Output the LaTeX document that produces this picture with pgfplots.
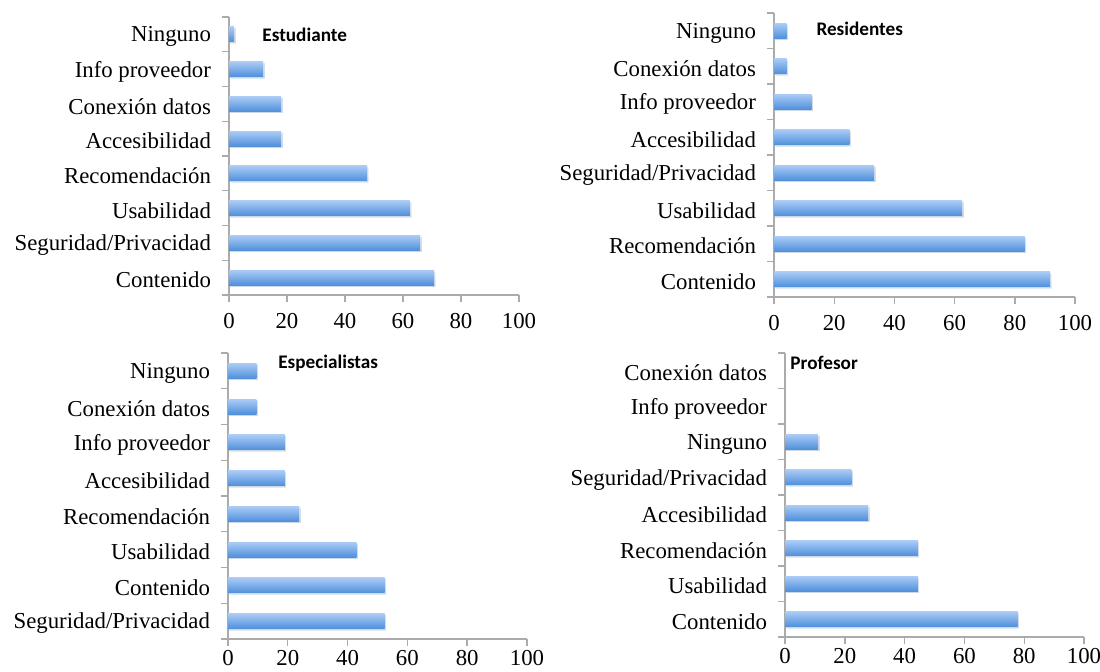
\documentclass[border=0pt]{standalone}
\usepackage{fontspec}
\setmainfont{Liberation Serif}
\newfontfamily\titlefont{Carlito}
\usepackage{pgfplots}
\pgfplotsset{compat=1.18}
\usetikzlibrary{shadows}
\definecolor{bartop}{HTML}{AACBF6}
\definecolor{barbot}{HTML}{5090DB}
\definecolor{axgray}{HTML}{ABABAB}
\pgfplotsset{
  panel/.style={
    scale only axis,
    anchor=south west,
    xbar, bar width=7.5pt,
    xmin=0, xmax=100,
    ymin=-0.5, ymax=7.5,
    xtick={0,20,...,100},
    ytick={0,...,7},
    minor ytick={-0.5,0.5,...,7.5},
    major y tick style={draw=none},
    minor y tick style={draw=axgray, line width=0.7pt},
    x tick style={draw=axgray, line width=0.7pt},
    tick align=outside,
    major tick length=3.5pt,
    minor tick length=3.5pt,
    axis x line*=bottom,
    axis y line*=left,
    axis line style={draw=axgray, line width=0.75pt},
    tick label style={font=\fontsize{11.4}{12}\selectfont},
    /pgf/number format/assume math mode=true,
    xticklabel style={yshift=-2pt},
    yticklabel style={xshift=-2pt, yshift=-1.2pt},
    clip=false,
  },
  barstyle/.style={draw=none, bar shift=0pt, top color=bartop, bottom color=barbot,
    drop shadow={shadow xshift=0.7pt, shadow yshift=-0.7pt, opacity=0.18}},
}
\tikzset{ttl/.style={anchor=west, inner sep=0pt, font=\titlefont\bfseries\fontsize{9.6}{10}\selectfont}}
\newcommand\hb[2]{\addplot[barstyle] coordinates {(#1,#2)};}
\begin{document}
\begin{tikzpicture}
\useasboundingbox (0,0) rectangle (550pt,336pt);
% Estudiante
\begin{axis}[panel, at={(114.5pt,188.5pt)}, width=145pt, height=139pt,
  yticklabels={Contenido,Seguridad/Privacidad,Usabilidad,Recomendación,Accesibilidad,Conexión datos,Info proveedor,Ninguno}]
\hb{70.7}{0}\hb{65.9}{1}\hb{62.4}{2}\hb{47.6}{3}\hb{18}{4}\hb{18}{5}\hb{11.8}{6}\hb{1.8}{7}
\node[ttl] at (rel axis cs:0.114,0.935) {Estudiante};
\end{axis}
% Residentes
\begin{axis}[panel, at={(387pt,187.5pt)}, width=150.5pt, height=142pt,
  yticklabels={Contenido,Recomendación,Usabilidad,Seguridad/Privacidad,Accesibilidad,Info proveedor,Conexión datos,Ninguno}]
\hb{91.7}{0}\hb{83.3}{1}\hb{62.5}{2}\hb{33.3}{3}\hb{25}{4}\hb{12.5}{5}\hb{4.2}{6}\hb{4.2}{7}
\node[ttl] at (rel axis cs:0.14,0.944) {Residentes};
\end{axis}
% Especialistas
\begin{axis}[panel, at={(114pt,16.5pt)}, width=149.5pt, height=143pt,
  xticklabel style={yshift=3.2pt},
  yticklabels={Seguridad/Privacidad,Contenido,Usabilidad,Recomendación,Accesibilidad,Info proveedor,Conexión datos,Ninguno}]
\hb{52.4}{0}\hb{52.4}{1}\hb{42.9}{2}\hb{23.8}{3}\hb{19.0}{4}\hb{19.0}{5}\hb{9.5}{6}\hb{9.5}{7}
\node[ttl] at (rel axis cs:0.167,0.965) {Especialistas};
\end{axis}
% Profesor
\begin{axis}[panel, at={(392.5pt,17.5pt)}, width=149.5pt, height=142pt,
  xticklabel style={yshift=3.2pt},
  yticklabels={Contenido,Usabilidad,Recomendación,Accesibilidad,Seguridad/Privacidad,Ninguno,Info proveedor,Conexión datos}]
\hb{77.8}{0}\hb{44.4}{1}\hb{44.4}{2}\hb{27.8}{3}\hb{22.2}{4}\hb{11.1}{5}
\node[ttl] at (rel axis cs:0.017,0.965) {Profesor};
\end{axis}
\end{tikzpicture}
\end{document}
